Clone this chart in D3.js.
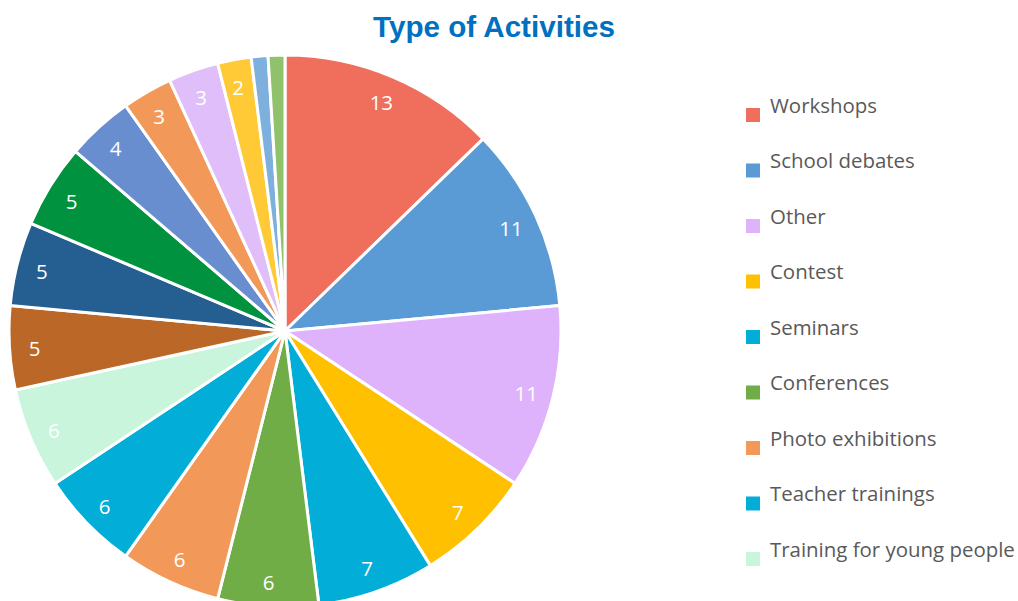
<!DOCTYPE html>
<html>
<head>
<meta charset="utf-8">
<script src="https://cdn.jsdelivr.net/npm/d3@7"></script>
<style>
html,body{margin:0;padding:0;background:#fff;}
svg{display:block;}
</style>
</head>
<body>
<svg id="chart" width="1018" height="601"></svg>
<script>
const categories = ["Workshops","School debates","Other","Contest","Seminars","Conferences","Photo exhibitions","Teacher trainings","Training for young people","Category 10","Category 11","Category 12","Category 13","Category 14","Category 15","Category 16","Category 17","Category 18"];
const values = [13,11,11,7,7,6,6,6,6,5,5,5,4,3,3,2,1,1];
const colors = ["#F06F5C","#5B9BD5","#DFB3FB","#FFC000","#02ADD8","#70AD47","#F2995A","#02ADD8","#C9F5DD","#BA6728","#255E91","#00923F","#698ED0","#F2995A","#E0BEFA","#FFCA36","#7EB0DE","#8FC26A"];
const legendCount = 9;
const title = "Type of Activities";

const svg = d3.select("#chart");
const cx = 285, cy = 331, R = 276;

const t = svg.append("text")
  .attr("x", 494).attr("y", 37)
  .attr("text-anchor","middle")
  .attr("font-family","'Liberation Sans', Arial, sans-serif")
  .attr("font-weight","bold")
  .attr("font-size", 28)
  .attr("fill","#0070C0")
  .text(title);
const tw = t.node().getComputedTextLength();
t.attr("font-size", 28*242/tw);

const data = categories.map((c,i)=>({name:c, value:values[i], color:colors[i]}));
const pie = d3.pie().value(d=>d.value).sort(null);
const arcs = pie(data);
const arc = d3.arc().innerRadius(0).outerRadius(R);
const labelArc = d3.arc().innerRadius(R*0.905).outerRadius(R*0.905);

const g = svg.append("g").attr("transform",`translate(${cx},${cy})`);
g.selectAll("path").data(arcs).join("path")
  .attr("d", arc)
  .attr("fill", d=>d.data.color)
  .attr("stroke","#fff")
  .attr("stroke-width",3)
  .attr("stroke-linejoin","round");

g.selectAll("text.lbl").data(arcs.filter(d=>d.data.value>=2)).join("text")
  .attr("class","lbl")
  .attr("transform", d=>{ const c = labelArc.centroid(d); return `translate(${c[0]-1},${c[1]+2})`; })
  .attr("text-anchor","middle")
  .attr("dy","0.36em")
  .attr("font-family","'Open Sans', sans-serif")
  .attr("font-size",20.5)
  .attr("fill","#fff")
  .text(d=>d.data.value);

const legend = svg.append("g");
const rowY = d3.scaleLinear().domain([0,1]).range([115, 170.5]);
const items = legend.selectAll("g").data(data.slice(0,legendCount)).join("g")
  .attr("transform",(d,i)=>`translate(746,${rowY(i)})`);
items.append("rect").attr("x",0).attr("y",-7).attr("width",14).attr("height",14).attr("fill",d=>d.color);
items.append("text").attr("x",24).attr("y",-2.5)
  .attr("font-family","'Open Sans', sans-serif")
  .attr("font-size",19)
  .attr("fill","#595959")
  .text(d=>d.name);
let maxW = 0;
items.selectAll("text").each(function(){ maxW = Math.max(maxW, this.getComputedTextLength()); });
items.selectAll("text").attr("font-size", 19*245/maxW);
</script>
</body>
</html>
